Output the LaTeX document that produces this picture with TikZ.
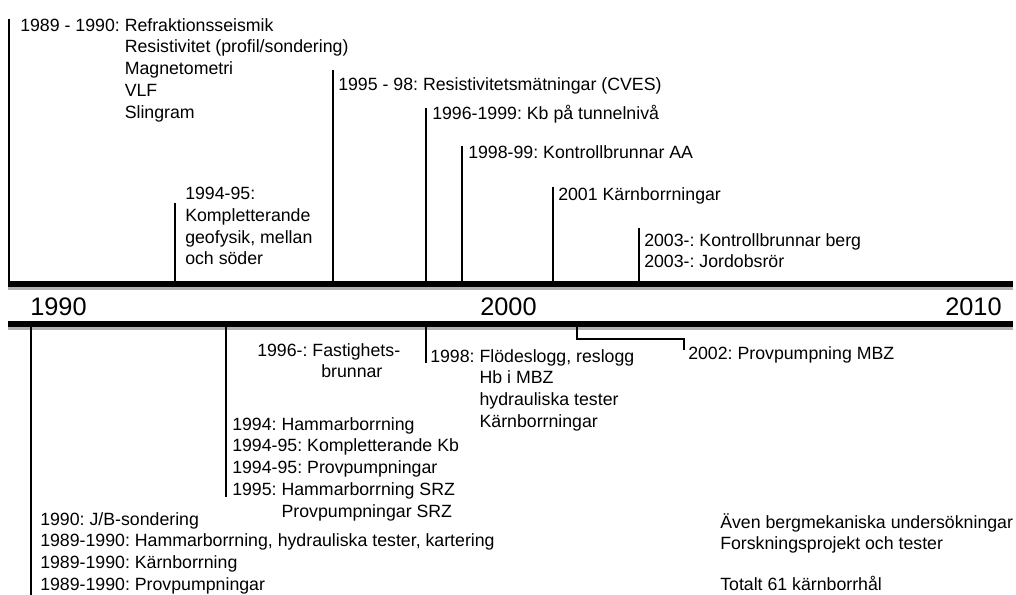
\documentclass[tikz,border=0pt]{standalone}
\usepackage{fontspec}
\setmainfont{Liberation Sans}
\usetikzlibrary{positioning}
\frenchspacing

\begin{document}
\begin{tikzpicture}[
  x=0.75pt, y=-0.75pt,
  bar/.style={line width=3.8pt},
  barshade/.style={line width=4.5pt, black!30},
  tick/.style={line width=1.1pt},
  lbl/.style={anchor=north west, inner sep=0pt, align=left, font=\frenchspacing\fontsize{13.3pt}{16.3pt}\selectfont},
  yearlbl/.style={anchor=north west, inner sep=0pt, font=\fontsize{19pt}{22pt}\selectfont}
]
  \useasboundingbox (0,0) rectangle (1016,595);

  % the two bars of the time line
  \coordinate (topL) at (8,284);
  \coordinate (topR) at (1013,284);
  \coordinate (botL) at (8,324);
  \coordinate (botR) at (1013,324);
  \draw[barshade] ([yshift=-2.5pt]topL) -- ([yshift=-2.5pt]topR);
  \draw[barshade] ([yshift=-2.5pt]botL) -- ([yshift=-2.5pt]botR);
  \draw[bar] (topL) -- (topR);
  \draw[bar] (botL) -- (botR);

  \node[yearlbl] (y1990) at (30,298) {1990};
  \node[yearlbl] (y2000) at (480,298) {2000};
  \node[yearlbl] (y2010) at (945,298) {2010};

  % above the line
  \coordinate (trefr) at (9,19);
  \coordinate (tkomp) at (175,203);
  \coordinate (tcves) at (333,70);
  \coordinate (tkbt) at (426,108);
  \coordinate (tkaa) at (462,146);
  \coordinate (tkarn) at (553,187);
  \coordinate (tberg) at (639,228);

  \node[lbl] (refr) at (20,18) {1989 - 1990: Refraktionsseismik\\
    \hphantom{1989 - 1990: }Resistivitet (profil/sondering)\\
    \hphantom{1989 - 1990: }Magnetometri\\
    \hphantom{1989 - 1990: }VLF\\
    \hphantom{1989 - 1990: }Slingram};
  \node[lbl] (komp) at (185,187) {1994-95:\\Kompletterande\\geofysik, mellan\\och söder};
  \node[lbl] (cves) at (338,77) {1995 - 98: Resistivitetsmätningar (CVES)};
  \node[lbl] (kbt) at (432,105) {1996-1999: Kb på tunnelnivå};
  \node[lbl] (kaa) at (468,145) {1998-99: Kontrollbrunnar AA};
  \node[lbl] (karn) at (558,187) {2001 Kärnborrningar};
  \node[lbl] (berg) at (644,233) {2003-: Kontrollbrunnar berg\\2003-: Jordobsrör};

  \draw[tick] (trefr) -- (trefr |- topL);
  \draw[tick] (tkomp) -- (tkomp |- topL);
  \draw[tick] (tcves) -- (tcves |- topL);
  \draw[tick] (tkbt) -- (tkbt |- topL);
  \draw[tick] (tkaa) -- (tkaa |- topL);
  \draw[tick] (tkarn) -- (tkarn |- topL);
  \draw[tick] (tberg) -- (tberg |- topL);

  % below the line
  \coordinate (bjb) at (31,595);
  \coordinate (bhamm) at (226,497);
  \coordinate (bflod) at (426,363);
  \coordinate (bprov) at (577,339);
  \coordinate (bmbz) at (684,350);

  \node[lbl] (jb) at (40,512) {1990: J/B-sondering\\
    1989-1990: Hammarborrning, hydrauliska tester, kartering\\
    1989-1990: Kärnborrning\\
    1989-1990: Provpumpningar};
  \node[lbl] (hamm) at (232,417) {1994: Hammarborrning\\
    1994-95: Kompletterande Kb\\
    1994-95: Provpumpningar\\
    1995: Hammarborrning SRZ\\
    \hphantom{1995: }Provpumpningar SRZ};
  \node[lbl] (fast) at (257,343) {1996-: Fastighets-\\\hspace*{48pt}brunnar};
  \node[lbl] (flod) at (430,349) {1998: Flödeslogg, reslogg\\
    \hphantom{1998: }Hb i MBZ\\
    \hphantom{1998: }hydrauliska tester\\
    \hphantom{1998: }Kärnborrningar};
  \node[lbl] (mbz) at (688,346) {2002: Provpumpning MBZ};
  \node[lbl] (berm) at (720,513) {Även bergmekaniska undersökningar\\
    Forskningsprojekt och tester\\[14.5pt]
    Totalt 61 kärnborrhål};

  \draw[tick] (bjb |- botL) -- (bjb);
  \draw[tick] (bhamm |- botL) -- (bhamm);
  \draw[tick] (bflod |- botL) -- (bflod);
  \draw[tick] (bprov |- botL) -- (bprov) -| (bmbz);
\end{tikzpicture}
\end{document}
